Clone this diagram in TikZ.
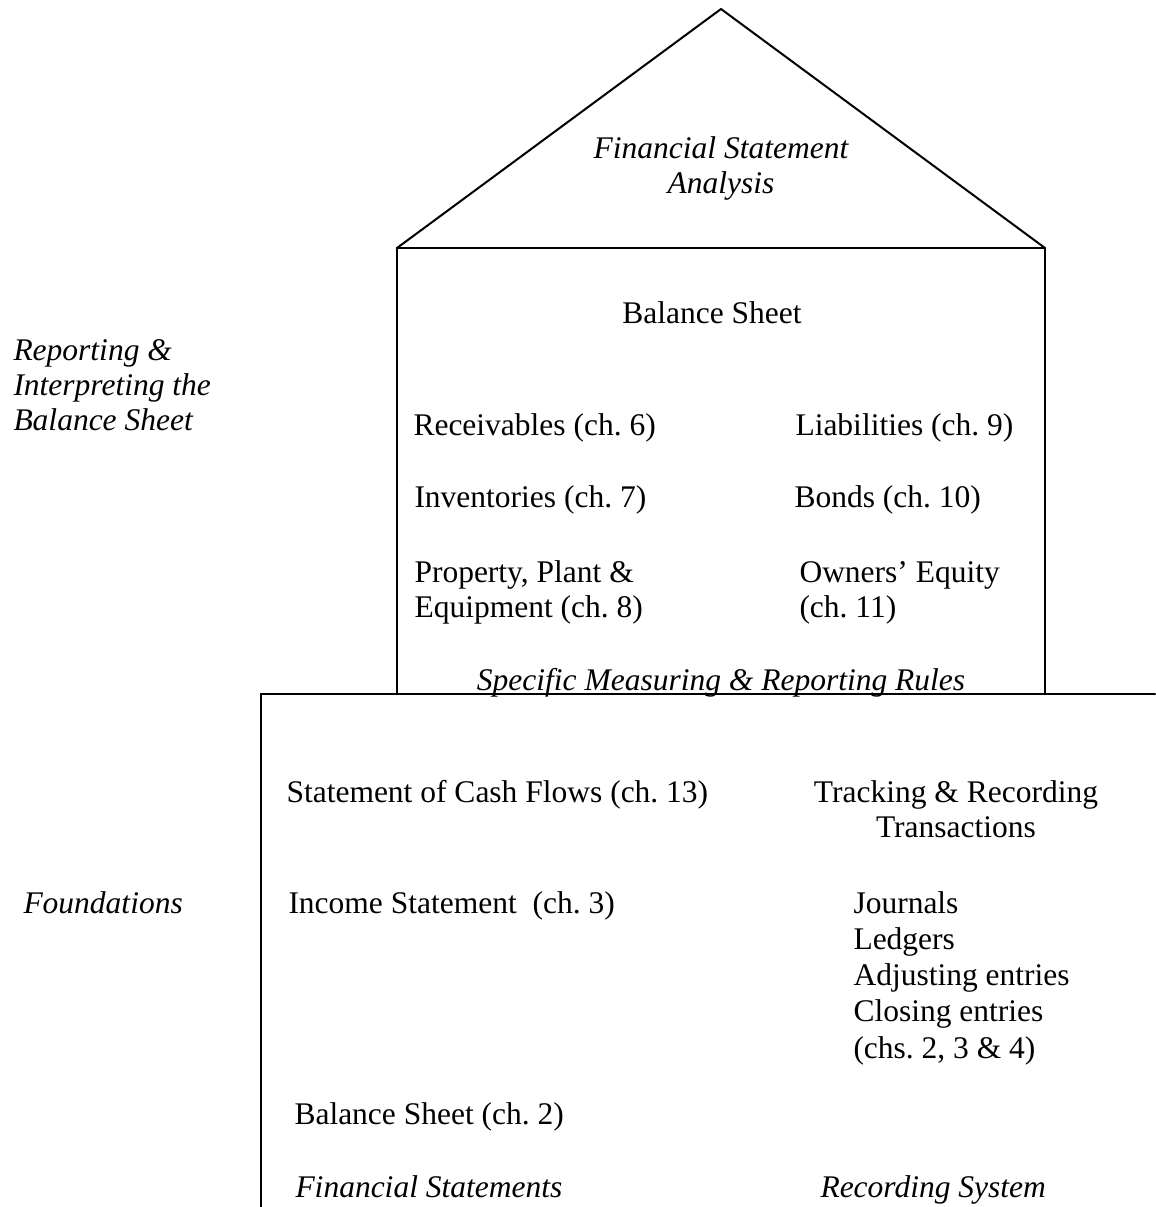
\documentclass[tikz,border=0pt]{standalone}
\usepackage{fontspec}
\setmainfont{Liberation Serif}
\frenchspacing
\begin{document}
\begin{tikzpicture}[x=0.4pt,y=-0.4pt,line cap=round,
    wall/.style={line width=0.8pt},
    txt/.style={anchor=base west,inner sep=0pt,align=left,
                font=\fontsize{12.6pt}{14pt}\selectfont},
    itxt/.style={txt,font=\fontsize{12.6pt}{14pt}\selectfont\itshape},
    ctxt/.style={txt,anchor=base,align=center},
    ictxt/.style={itxt,anchor=base,align=center}]
  \useasboundingbox (0,0) rectangle (1155,1207);
  % roof and upper walls
  \coordinate (apex)   at (721,9);
  \coordinate (eaveL)  at (397,248);
  \coordinate (eaveR)  at (1045,248);
  \coordinate (floorL) at (397,694);
  \coordinate (floorR) at (1045,694);
  \draw[wall] (eaveL) -- (apex) -- (eaveR);
  \draw[wall] (floorL) -- (eaveL) -- (eaveR) -- (floorR);
  % foundation
  \coordinate (baseTL) at (261,694);
  \coordinate (baseTR) at (1155,694);
  \coordinate (baseBL) at (261,1207);
  \draw[wall] (baseTR) -- (baseTL) -- (baseBL);
  % roof (multi-line nodes sit on their last line)
  \node[ictxt] (fsa) at (721,193) {Financial Statement\\Analysis};
  % left side labels
  \node[itxt] (rib) at (13,430) {Reporting \&\\Interpreting the\\Balance Sheet};
  \node[itxt] (fnd) at (23,913) {Foundations};
  % balance sheet
  \node[ctxt] (bsh) at (712,323) {Balance Sheet};
  \node[txt] (rec) at (413,435) {Receivables (ch. 6)};
  \node[txt] (lia) at (795,435) {Liabilities (ch. 9)};
  \node[txt] (inv) at (414,507) {Inventories (ch. 7)};
  \node[txt] (bon) at (794,507) {Bonds (ch. 10)};
  \node[txt] (ppe) at (414,617) {Property, Plant \&\\Equipment (ch. 8)};
  \node[txt] (oeq) at (799,617) {Owners’ Equity\\(ch. 11)};
  \node[ictxt] (smr) at (721,690) {Specific Measuring \& Reporting Rules};
  % financial statements
  \node[txt] (scf) at (286,802) {Statement of Cash Flows (ch. 13)};
  \node[txt] (inc) at (288,913) {Income Statement\ \ (ch. 3)};
  \node[txt] (bs2) at (294,1124) {Balance Sheet (ch. 2)};
  \node[itxt] (fst) at (295,1197) {Financial Statements};
  % recording system
  \node[ctxt] (trk) at (956,837) {Tracking \& Recording\\Transactions};
  \node[txt,font=\fontsize{12.6pt}{14.5pt}\selectfont] (jrn) at (853,1058)
        {Journals\\Ledgers\\Adjusting entries\\Closing entries\\(chs. 2, 3 \& 4)};
  \node[itxt] (rsy) at (820,1197) {Recording System};
\end{tikzpicture}
\end{document}
